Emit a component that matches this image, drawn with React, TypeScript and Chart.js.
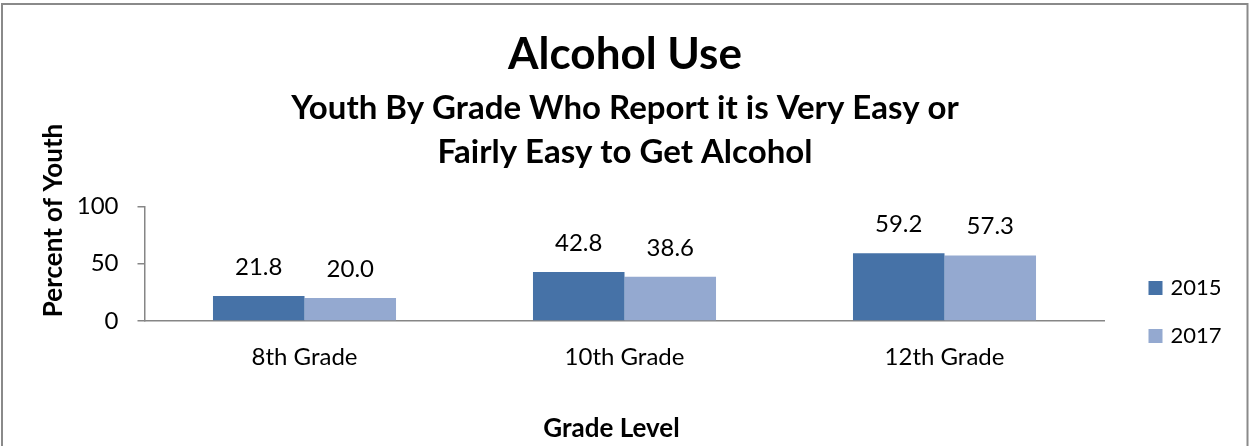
import React, { useEffect, useRef } from "react";
import { Chart, registerables } from "chart.js";

Chart.register(...registerables);

const CATEGORIES = ["8th Grade", "10th Grade", "12th Grade"];
const SERIES_LABELS = ["2015", "2017"];
const VALUES_2015 = [21.8, 42.8, 59.2];
const VALUES_2017 = [20.0, 38.6, 57.3];
const Y_TICKS = [0, 50, 100];
const TITLE = "Alcohol Use";
const SUBTITLE = ["Youth By Grade Who Report it is Very Easy or", "Fairly Easy to Get Alcohol"];
const X_TITLE = "Grade Level";
const Y_TITLE = "Percent of Youth";
const COLORS = ["#4672A7", "#94A9D0"];

const FONT = "Lato, 'Open Sans', sans-serif";
const AXIS_GRAY = "#868686";

const framePlugin = {
  id: "frame",
  afterDraw(chart: any) {
    const { ctx } = chart;
    ctx.save();
    ctx.strokeStyle = "#8a8a8a";
    ctx.lineWidth = 2;
    ctx.strokeRect(2, 4, 1245.5, 460);
    ctx.restore();
  },
};

const valueLabelPlugin = {
  id: "valueLabels",
  afterDatasetsDraw(chart: any) {
    const { ctx } = chart;
    ctx.save();
    ctx.font = `24px ${FONT}`;
    ctx.fillStyle = "#000";
    ctx.textAlign = "center";
    ctx.textBaseline = "middle";
    chart.data.datasets.forEach((ds: any, i: number) => {
      const meta = chart.getDatasetMeta(i);
      meta.data.forEach((bar: any, j: number) => {
        ctx.fillText(Number(ds.data[j]).toFixed(1), bar.x, bar.y - 29);
      });
    });
    ctx.restore();
  },
};

const axisTitlePlugin = {
  id: "axisTitles",
  afterDraw(chart: any) {
    const { ctx, chartArea } = chart;
    ctx.save();
    ctx.fillStyle = "#000";
    ctx.font = `bold 26px ${FONT}`;
    ctx.textAlign = "center";
    ctx.textBaseline = "middle";
    ctx.fillText(X_TITLE, (chartArea.left + chartArea.right) / 2 - 13, chartArea.bottom + 108);
    ctx.translate(54, chartArea.top + 14);
    ctx.rotate(-Math.PI / 2);
    ctx.fillText(Y_TITLE, 0, 0);
    ctx.restore();
  },
};

const legendPlugin = {
  id: "customLegend",
  afterDraw(chart: any) {
    const { ctx, chartArea } = chart;
    ctx.save();
    ctx.font = `22px ${FONT}`;
    ctx.textAlign = "left";
    ctx.textBaseline = "middle";
    const x = chartArea.right + 44;
    chart.data.datasets.forEach((ds: any, i: number) => {
      const y = chartArea.bottom - 33 + i * 48;
      ctx.fillStyle = ds.backgroundColor;
      ctx.fillRect(x, y - 7, 14, 14);
      ctx.fillStyle = "#000";
      ctx.fillText(ds.label, x + 22, y);
    });
    ctx.restore();
  },
};

export default function App() {
  const ref = useRef<HTMLCanvasElement | null>(null);

  useEffect(() => {
    if (!ref.current) return;
    const chart = new Chart(ref.current, {
      type: "bar",
      data: {
        labels: CATEGORIES,
        datasets: [
          { label: SERIES_LABELS[0], data: VALUES_2015, backgroundColor: COLORS[0], borderWidth: 0 },
          { label: SERIES_LABELS[1], data: VALUES_2017, backgroundColor: COLORS[1], borderWidth: 0 },
        ],
      },
      options: {
        responsive: false,
        animation: false,
        devicePixelRatio: 1,
        layout: { padding: 0 },
        datasets: { bar: { categoryPercentage: 0.572, barPercentage: 1 } },
        plugins: {
          legend: { display: false },
          tooltip: { enabled: false },
          title: {
            display: true,
            text: TITLE,
            color: "#000",
            font: { family: FONT, size: 44, weight: "bold", lineHeight: 1.2 },
            padding: { top: 28.6, bottom: 0 },
          },
          subtitle: {
            display: true,
            text: SUBTITLE,
            color: "#000",
            font: { family: FONT, size: 33, weight: "bold", lineHeight: 1.3333 },
            padding: { top: 4.6, bottom: 32.5 },
          },
        },
        scales: {
          x: {
            grid: { display: false },
            border: { display: true, color: AXIS_GRAY, width: 1.5 },
            ticks: { color: "#000", font: { family: FONT, size: 24 }, padding: 14 },
            afterFit: (s: any) => {
              s.height = 125;
            },
          },
          y: {
            min: 0,
            max: 100,
            afterBuildTicks: (s: any) => {
              s.ticks = Y_TICKS.map((v) => ({ value: v }));
            },
            grid: { display: true, drawOnChartArea: false, drawTicks: true, tickLength: 7, color: AXIS_GRAY, lineWidth: 1.5 },
            border: { display: true, color: AXIS_GRAY, width: 1.5 },
            ticks: { color: "#000", font: { family: FONT, size: 24 }, padding: 19 },
            afterFit: (s: any) => {
              s.width = 144.5;
            },
          },
          legendSpace: {
            type: "linear",
            position: "right",
            display: true,
            grid: { display: false },
            border: { display: false },
            ticks: { display: false },
            afterFit: (s: any) => {
              s.width = 145.5;
            },
          },
        },
      },
      plugins: [valueLabelPlugin, axisTitlePlugin, legendPlugin, framePlugin],
    });
    return () => chart.destroy();
  }, []);

  return (
    <div style={{ position: "absolute", left: 0, top: 0, width: 1250, height: 446, background: "#fff", overflow: "hidden" }}>
      <canvas ref={ref} width={1250} height={446} style={{ display: "block" }} />
    </div>
  );
}
